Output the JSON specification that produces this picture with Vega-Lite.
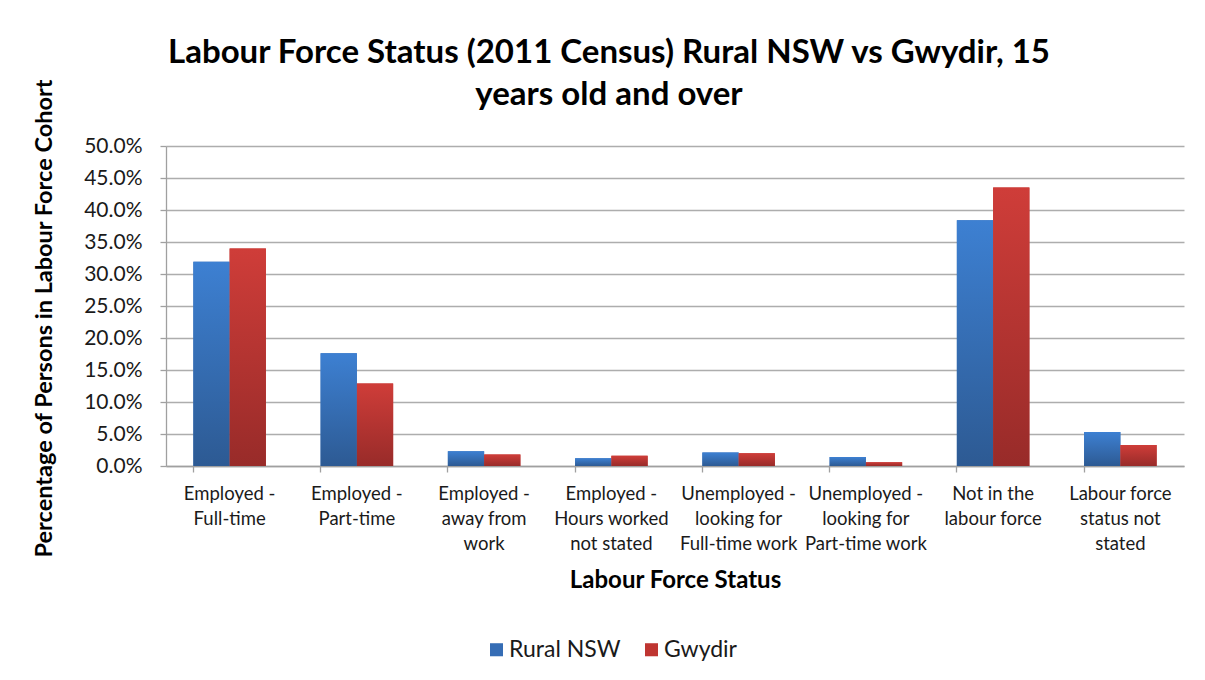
{
  "$schema": "https://vega.github.io/schema/vega-lite/v6.json",
  "width": 1018,
  "height": 320,
  "autosize": {"type": "none"},
  "padding": {"left": 166, "top": 146, "right": 21, "bottom": 214},
  "background": "white",
  "title": {
    "text": ["Labour Force Status (2011 Census) Rural NSW vs Gwydir, 15", "years old and over"],
    "font": "Lato",
    "fontSize": 33,
    "fontWeight": "bold",
    "color": "#000000",
    "anchor": "middle",
    "frame": "group",
    "dx": -66,
    "offset": -33,
    "lineHeight": 42
  },
  "data": {
    "values": [
      {"status": "Employed - Full-time", "series": "Rural NSW", "value": 0.319},
      {"status": "Employed - Full-time", "series": "Gwydir", "value": 0.340},
      {"status": "Employed - Part-time", "series": "Rural NSW", "value": 0.176},
      {"status": "Employed - Part-time", "series": "Gwydir", "value": 0.129},
      {"status": "Employed - away from work", "series": "Rural NSW", "value": 0.023},
      {"status": "Employed - away from work", "series": "Gwydir", "value": 0.018},
      {"status": "Employed - Hours worked not stated", "series": "Rural NSW", "value": 0.012},
      {"status": "Employed - Hours worked not stated", "series": "Gwydir", "value": 0.016},
      {"status": "Unemployed - looking for Full-time work", "series": "Rural NSW", "value": 0.021},
      {"status": "Unemployed - looking for Full-time work", "series": "Gwydir", "value": 0.020},
      {"status": "Unemployed - looking for Part-time work", "series": "Rural NSW", "value": 0.014},
      {"status": "Unemployed - looking for Part-time work", "series": "Gwydir", "value": 0.006},
      {"status": "Not in the labour force", "series": "Rural NSW", "value": 0.384},
      {"status": "Not in the labour force", "series": "Gwydir", "value": 0.435},
      {"status": "Labour force status not stated", "series": "Rural NSW", "value": 0.053},
      {"status": "Labour force status not stated", "series": "Gwydir", "value": 0.033}
    ]
  },
  "encoding": {
    "x": {
      "field": "status",
      "type": "nominal",
      "sort": null,
      "scale": {"paddingInner": 0.43, "paddingOuter": 0.215},
      "axis": {
        "title": "Labour Force Status",
        "labelAngle": 0,
        "bandPosition": 0,
        "ticks": true,
        "tickSize": 6,
        "grid": false,
        "labelFont": "Lato",
        "labelFontSize": 18.5,
        "labelColor": "#1a1a1a",
        "labelLineHeight": 25,
        "labelPadding": 12,
        "labelBound": false,
        "labelOverlap": false,
        "labelExpr": "{'Employed - Full-time':['Employed -','Full-time'],'Employed - Part-time':['Employed -','Part-time'],'Employed - away from work':['Employed -','away from','work'],'Employed - Hours worked not stated':['Employed -','Hours worked','not stated'],'Unemployed - looking for Full-time work':['Unemployed -','looking for','Full-time work'],'Unemployed - looking for Part-time work':['Unemployed -','looking for','Part-time work'],'Not in the labour force':['Not in the','labour force'],'Labour force status not stated':['Labour force','status not','stated']}[datum.label]",
        "titleFont": "Lato",
        "titleFontSize": 24,
        "titleFontWeight": "bold",
        "titleColor": "#000000",
        "titlePadding": 16
      }
    },
    "xOffset": {
      "field": "series",
      "type": "nominal",
      "scale": {"domain": ["Rural NSW", "Gwydir"], "paddingInner": 0}
    },
    "y": {
      "field": "value",
      "type": "quantitative",
      "scale": {"domain": [0, 0.5], "nice": false},
      "axis": {
        "title": "Percentage of Persons in Labour Force Cohort",
        "format": ".1%",
        "values": [0, 0.05, 0.1, 0.15, 0.2, 0.25, 0.3, 0.35, 0.4, 0.45, 0.5],
        "labelFont": "Lato",
        "labelFontSize": 21,
        "labelColor": "#1a1a1a",
        "labelPadding": 18,
        "tickSize": 6,
        "titleFont": "Lato",
        "titleFontSize": 23.5,
        "titleFontWeight": "bold",
        "titleColor": "#000000",
        "titlePadding": 27,
        "titleY": 172
      }
    }
  },
  "layer": [
    {
      "mark": {"type": "bar"},
      "encoding": {
        "color": {
          "field": "series",
          "type": "nominal",
          "scale": {"domain": ["Rural NSW", "Gwydir"], "range": ["#356DB5", "#BF3531"]},
          "legend": {
            "title": null,
            "orient": "none",
            "legendX": 319,
            "legendY": 492,
            "direction": "horizontal",
            "symbolType": "square",
            "symbolSize": 170,
            "symbolStrokeWidth": 0,
            "labelFont": "Lato",
            "labelFontSize": 23,
            "labelColor": "#1a1a1a",
            "labelOffset": 1,
            "columnPadding": 19
          }
        }
      }
    },
    {
      "transform": [{"filter": "datum.series === 'Rural NSW'"}],
      "mark": {
        "type": "bar",
        "color": {
          "x1": 0, "y1": 0, "x2": 0, "y2": 1,
          "gradient": "linear",
          "stops": [{"offset": 0, "color": "#3D80D2"}, {"offset": 1, "color": "#2D5A93"}]
        }
      }
    },
    {
      "transform": [{"filter": "datum.series === 'Gwydir'"}],
      "mark": {
        "type": "bar",
        "color": {
          "x1": 0, "y1": 0, "x2": 0, "y2": 1,
          "gradient": "linear",
          "stops": [{"offset": 0, "color": "#CF3D39"}, {"offset": 1, "color": "#982B29"}]
        }
      }
    }
  ],
  "config": {
    "view": {"stroke": null},
    "axis": {
      "gridColor": "#ADADAD",
      "gridWidth": 1.3,
      "domainColor": "#A0A0A0",
      "domainWidth": 1.3,
      "tickColor": "#A0A0A0",
      "tickWidth": 1.3
    }
  }
}
